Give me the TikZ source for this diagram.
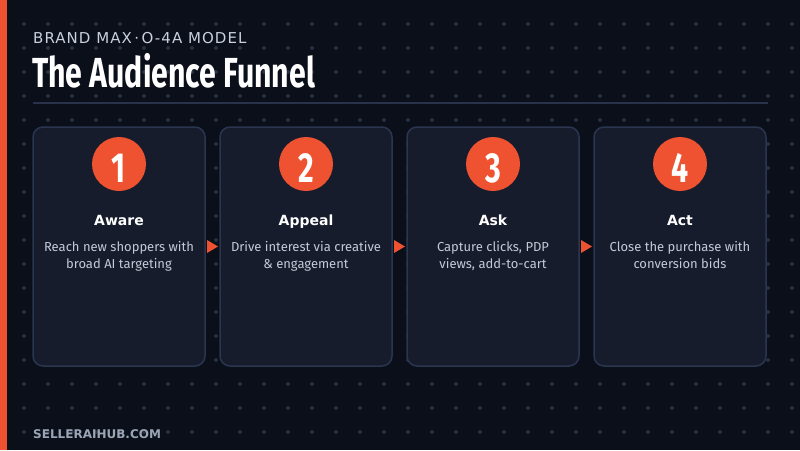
\documentclass[tikz,border=0pt]{standalone}
\usepackage{fontspec}
\setmainfont{Fira Sans}
\newfontfamily\condfont{Fira Sans}[FakeStretch=0.72]
\newfontfamily\widefont{DejaVu Sans}
\newfontfamily\kickerfont{DejaVu Sans}[LetterSpace=7]
\usepackage{xcolor}
\usepackage{tikz}
\usetikzlibrary{calc}

\definecolor{bgdark}{HTML}{0B0F1A}
\definecolor{griddot}{HTML}{263043}
\definecolor{accent}{HTML}{EF5230}
\definecolor{cardfill}{HTML}{161C2C}
\definecolor{cardline}{HTML}{2A3550}
\definecolor{kicker}{HTML}{C9D1DE}
\definecolor{desctext}{HTML}{C3CAD6}
\definecolor{footer}{HTML}{9AA6B6}
\definecolor{rule}{HTML}{28324A}

\begin{document}
\begin{tikzpicture}[
    x=1pt, y=-1pt,
    card/.style={
        rectangle,
        rounded corners=10pt,
        draw=cardline,
        line width=1.5pt,
        fill=cardfill,
        minimum width=172pt,
        minimum height=239pt
    },
    badge/.style={
        circle,
        fill=accent,
        minimum size=54pt,
        inner sep=0pt,
        text height=37pt,
        text depth=0pt,
        text=white,
        font=\condfont\bfseries\fontsize{42}{42}\selectfont
    },
    head/.style={
        anchor=base,
        inner sep=0pt,
        text=white,
        font=\widefont\bfseries\fontsize{14}{16}\selectfont
    },
    desc/.style={
        anchor=north,
        inner sep=0pt,
        align=center,
        text=desctext,
        font=\fontsize{13}{17}\selectfont
    },
    pointer/.style={
        fill=accent
    }
]

% Background
\useasboundingbox (0,0) rectangle (800,450);
\fill[bgdark] (0,0) rectangle (800,450);
\foreach \i in {1,...,33} {
    \foreach \j in {1,...,18} {
        \fill[griddot] (24*\i,24*\j) circle (2pt);
    }
}
\fill[accent] (0,0) rectangle (7,450);

% Header
\node[anchor=base west, inner sep=0pt, text=kicker, font=\kickerfont\fontsize{15}{18}\selectfont] (kicker) at (33,43) {BRAND MAX\,·\,O-4A MODEL};
\node[anchor=base west, inner sep=0pt, text=white, font=\condfont\bfseries\fontsize{42}{44}\selectfont] (title) at (32,87.5) {The Audience Funnel};
\draw[rule, line width=1.5pt] (33,103) -- (768,103);

% Cards
\node[card] (card1) at (119,246.5) {};
\node[card] (card2) at (306,246.5) {};
\node[card] (card3) at (493,246.5) {};
\node[card] (card4) at (680,246.5) {};

% Steps
\node[badge] (num1) at (119,164) {1};
\node[head] (name1) at (119,225) {Aware};
\node[desc] (text1) at (119,241.5) {Reach new shoppers with\\broad AI targeting};

\node[badge] (num2) at (306,164) {2};
\node[head] (name2) at (306,225) {Appeal};
\node[desc] (text2) at (306,241.5) {Drive interest via creative\\\& engagement};

\node[badge] (num3) at (493,164) {3};
\node[head] (name3) at (493,225) {Ask};
\node[desc] (text3) at (493,241.5) {Capture clicks, PDP\\views, add-to-cart};

\node[badge] (num4) at (680,164) {4};
\node[head] (name4) at (680,225) {Act};
\node[desc] (text4) at (680,241.5) {Close the purchase with\\conversion bids};

% Pointers between cards
\fill[pointer] ($(card1.east)!0.5!(card2.west)$) ++(-5.5,-6.5) -- ++(11,6.5) -- ++(-11,6.5) -- cycle;
\fill[pointer] ($(card2.east)!0.5!(card3.west)$) ++(-5.5,-6.5) -- ++(11,6.5) -- ++(-11,6.5) -- cycle;
\fill[pointer] ($(card3.east)!0.5!(card4.west)$) ++(-5.5,-6.5) -- ++(11,6.5) -- ++(-11,6.5) -- cycle;

% Footer
\node[anchor=base west, inner sep=0pt, text=footer, font=\widefont\bfseries\fontsize{12}{15}\selectfont] (site) at (33,438) {SELLERAIHUB.COM};

\end{tikzpicture}
\end{document}
